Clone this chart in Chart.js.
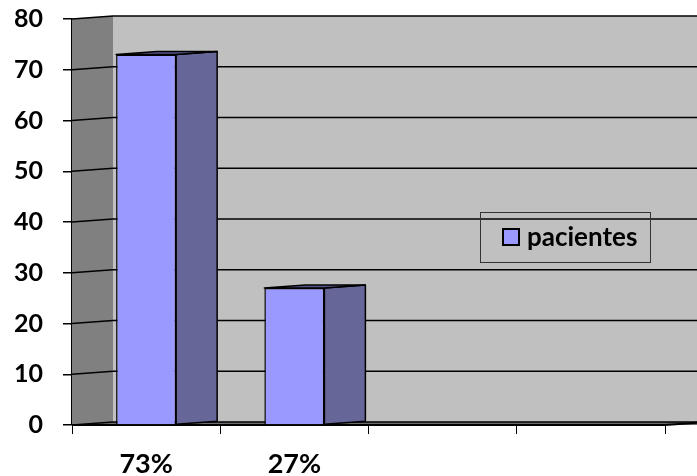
<!DOCTYPE html>
<html>
<head>
<meta charset="utf-8">
<script src="https://cdn.jsdelivr.net/npm/chart.js@4/dist/chart.umd.min.js"></script>
<style>
  html, body { margin: 0; padding: 0; background: #fff; }
  canvas { display: block; }
</style>
</head>
<body>
<canvas id="c" width="697" height="476"></canvas>
<script>
// Categories and values
const categories = ['73%', '27%', '', ''];
const pacientes = [73, 27, null, null];
const seriesName = 'pacientes';
const yMin = 0;
const yMax = 80;
const yStep = 10;

// Pseudo-3D depth offset of the plot box
const DEPTH_X = 41;
const DEPTH_Y = -3;
const FONT = 'Lato, "Open Sans", sans-serif';
const FRONT = '#9999ff';
const SIDE = '#666699';
const TOP = '#55558a';

const box3d = {
  id: 'box3d',
  beforeDatasetsDraw(chart) {
    const { ctx, chartArea: a, scales: { y } } = chart;
    const W = chart.width;
    ctx.save();
    // left side wall
    ctx.fillStyle = '#808080';
    ctx.beginPath();
    ctx.moveTo(a.left, a.top);
    ctx.lineTo(a.left + DEPTH_X, a.top + DEPTH_Y);
    ctx.lineTo(a.left + DEPTH_X, a.bottom + DEPTH_Y);
    ctx.lineTo(a.left, a.bottom);
    ctx.closePath();
    ctx.fill();
    // back wall
    ctx.fillStyle = '#c0c0c0';
    ctx.fillRect(a.left + DEPTH_X, a.top + DEPTH_Y, W - a.left - DEPTH_X, a.bottom - a.top);
    // floor
    ctx.fillStyle = '#6e6e6e';
    ctx.beginPath();
    ctx.moveTo(a.left, a.bottom);
    ctx.lineTo(a.left + DEPTH_X, a.bottom + DEPTH_Y);
    ctx.lineTo(W, a.bottom + DEPTH_Y);
    ctx.lineTo(W, a.bottom);
    ctx.closePath();
    ctx.fill();
    // gridlines bent along side wall and back wall
    ctx.strokeStyle = '#000';
    ctx.lineWidth = 1.6;
    y.ticks.forEach(t => {
      const py = y.getPixelForValue(t.value);
      ctx.beginPath();
      ctx.moveTo(a.left, py);
      ctx.lineTo(a.left + DEPTH_X, py + DEPTH_Y);
      ctx.lineTo(W, py + DEPTH_Y);
      ctx.stroke();
    });
    // front floor edge
    ctx.lineWidth = 2;
    ctx.beginPath();
    ctx.moveTo(a.left, a.bottom);
    ctx.lineTo(a.right, a.bottom);
    ctx.lineTo(a.right + DEPTH_X, a.bottom + DEPTH_Y);
    ctx.stroke();
    ctx.restore();
  },
  afterDatasetsDraw(chart) {
    const { ctx } = chart;
    const meta = chart.getDatasetMeta(0);
    ctx.save();
    ctx.strokeStyle = '#000';
    ctx.lineWidth = 1.5;
    ctx.lineJoin = 'round';
    meta.data.forEach((bar, i) => {
      if (pacientes[i] == null) return;
      const { x, y, base, width } = bar.getProps(['x', 'y', 'base', 'width'], true);
      const l = x - width / 2;
      const r = x + width / 2;
      // side face
      ctx.fillStyle = SIDE;
      ctx.beginPath();
      ctx.moveTo(r, y);
      ctx.lineTo(r + DEPTH_X, y + DEPTH_Y);
      ctx.lineTo(r + DEPTH_X, base + DEPTH_Y);
      ctx.lineTo(r, base);
      ctx.closePath();
      ctx.fill();
      ctx.stroke();
      // top face
      ctx.fillStyle = TOP;
      ctx.beginPath();
      ctx.moveTo(l, y);
      ctx.lineTo(l + DEPTH_X, y + DEPTH_Y);
      ctx.lineTo(r + DEPTH_X, y + DEPTH_Y);
      ctx.lineTo(r, y);
      ctx.closePath();
      ctx.fill();
      ctx.stroke();
    });
    ctx.restore();
  },
  afterDraw(chart) {
    // legend box placed inside the plot
    const { ctx } = chart;
    const bx = 480, by = 212, bw = 170, bh = 50;
    ctx.save();
    ctx.strokeStyle = '#333';
    ctx.lineWidth = 1;
    ctx.strokeRect(bx + 0.5, by + 0.5, bw, bh);
    ctx.fillStyle = chart.data.datasets[0].backgroundColor;
    ctx.fillRect(bx + 23, by + 17, 16, 16);
    ctx.strokeStyle = '#000';
    ctx.lineWidth = 2;
    ctx.strokeRect(bx + 23, by + 17, 16, 16);
    ctx.fillStyle = '#000';
    ctx.font = 'bold 26px ' + FONT;
    ctx.textBaseline = 'alphabetic';
    ctx.fillText(chart.data.datasets[0].label, bx + 47, by + 34);
    ctx.restore();
  }
};

new Chart(document.getElementById('c'), {
  type: 'bar',
  data: {
    labels: categories,
    datasets: [{
      label: seriesName,
      data: pacientes,
      backgroundColor: FRONT,
      borderColor: '#000',
      borderWidth: 1.5,
      categoryPercentage: 1,
      barPercentage: 0.405
    }]
  },
  options: {
    responsive: false,
    devicePixelRatio: 1,
    animation: false,
    layout: { padding: { top: 19, right: 32, left: 0, bottom: 0 } },
    plugins: { legend: { display: false }, tooltip: { enabled: false } },
    scales: {
      x: {
        offset: true,
        grid: { offset: true, drawOnChartArea: false, drawTicks: true, tickLength: 9, color: '#000', lineWidth: 1 },
        border: { display: false },
        ticks: { color: '#000', font: { family: FONT, size: 27, weight: 'bold' }, padding: 14, maxRotation: 0 },
        afterFit(s) { s.height = 51; s.paddingLeft = 0; s.paddingRight = 0; }
      },
      y: {
        min: yMin,
        max: yMax,
        ticks: { stepSize: yStep, color: '#000', font: { family: FONT, size: 25, weight: 'bold' }, padding: 20 },
        grid: { drawOnChartArea: false, drawTicks: true, tickLength: 9, color: '#000', lineWidth: 1.5 },
        border: { display: true, color: '#000', width: 1.5 },
        afterFit(s) { s.width = 72; s.paddingTop = 0; s.paddingBottom = 0; }
      }
    }
  },
  plugins: [box3d]
});
</script>
</body>
</html>
